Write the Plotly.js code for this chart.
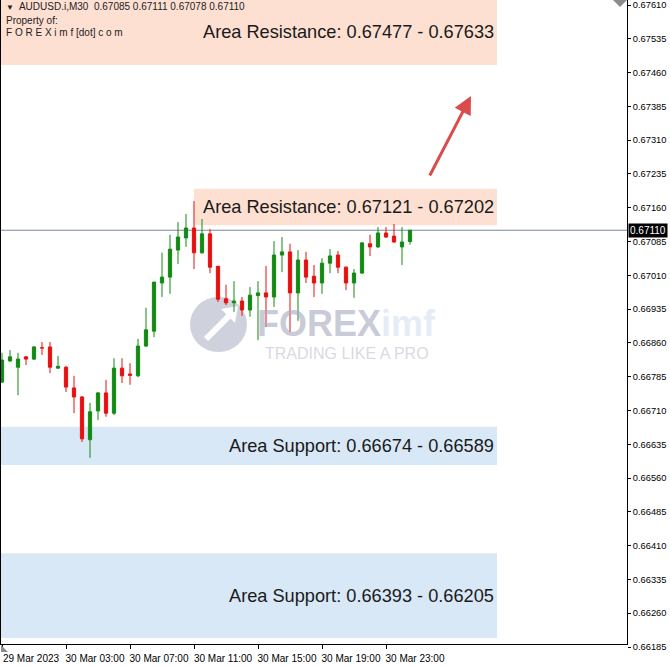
<!DOCTYPE html>
<html>
<head>
<meta charset="utf-8">
<script src="https://cdn.plot.ly/plotly-3.0.1.min.js"></script>
<style>html,body{margin:0;padding:0;background:#fff}#chart{width:670px;height:667px}</style>
</head>
<body>
<div id="chart"></div>
<script>
// ---------------- DATA ----------------
const symbol = "AUDUSD.i,M30";
const firstBar = Date.UTC(2023, 2, 29, 23, 0);   // 29 Mar 2023 23:00, M30 bars
const barMs = 30 * 60 * 1000;

const opens  = [0.66773,0.66820,0.66806,0.66829,0.66824,0.66849,0.66851,0.66804,0.66806,0.66760,
                0.66740,0.66645,0.66709,0.66749,0.66704,0.66804,0.66791,0.66787,0.66853,0.66886,
                0.66993,0.67006,0.67066,0.67093,0.67115,0.67060,0.67102,0.67030,0.66958,0.66949,
                0.66953,0.66933,0.66965,0.66971,0.66962,0.67055,0.67062,0.66971,0.67044,0.67008,
                0.66993,0.67037,0.67055,0.67028,0.66993,0.67015,0.67080,0.67073,0.67104,0.67097,
                0.67073,0.67085];
const highs  = [0.66838,0.66844,0.66838,0.66831,0.66853,0.66862,0.66862,0.66831,0.66809,0.66787,
                0.66742,0.66727,0.66751,0.66778,0.66826,0.66826,0.66815,0.66869,0.66938,0.66995,
                0.67060,0.67100,0.67128,0.67146,0.67175,0.67135,0.67113,0.67031,0.66989,0.66997,
                0.66962,0.66984,0.66997,0.67031,0.67086,0.67095,0.67080,0.67066,0.67062,0.67033,
                0.67048,0.67068,0.67064,0.67030,0.67024,0.67084,0.67100,0.67117,0.67117,0.67124,
                0.67117,0.67111];
const lows   = [0.66771,0.66818,0.66744,0.66811,0.66822,0.66833,0.66793,0.66803,0.66751,0.66704,
                0.66640,0.66605,0.66689,0.66696,0.66700,0.66771,0.66767,0.66784,0.66851,0.66873,
                0.66962,0.66969,0.67035,0.67073,0.67024,0.67058,0.67015,0.66951,0.66944,0.66929,
                0.66920,0.66918,0.66866,0.66895,0.66940,0.67017,0.66884,0.66909,0.66993,0.66962,
                0.66969,0.67015,0.67015,0.66977,0.66960,0.67013,0.67053,0.67071,0.67093,0.67082,
                0.67033,0.67078];
const closes = [0.66822,0.66829,0.66824,0.66824,0.66851,0.66849,0.66806,0.66808,0.66762,0.66740,
                0.66647,0.66707,0.66749,0.66704,0.66804,0.66787,0.66788,0.66853,0.66889,0.66995,
                0.67006,0.67068,0.67095,0.67115,0.67060,0.67102,0.67028,0.66957,0.66949,0.66953,
                0.66933,0.66966,0.66971,0.66962,0.67055,0.67062,0.66971,0.67044,0.67006,0.66993,
                0.67037,0.67053,0.67028,0.66993,0.67015,0.67082,0.67073,0.67104,0.67095,0.67084,
                0.67084,0.67110];

const xTickTimes = ["2023-03-29 23:00","2023-03-30 03:00","2023-03-30 07:00","2023-03-30 11:00",
                    "2023-03-30 15:00","2023-03-30 19:00","2023-03-30 23:00"];
const xTickText  = ["29 Mar 2023","30 Mar 03:00","30 Mar 07:00","30 Mar 11:00",
                    "30 Mar 15:00","30 Mar 19:00","30 Mar 23:00"];
const yTickVals  = [0.66185,0.66260,0.66335,0.66410,0.66485,0.66560,0.66635,0.66710,0.66785,0.66860,
                    0.66935,0.67010,0.67085,0.67160,0.67235,0.67310,0.67385,0.67460,0.67535,0.67610];
const currentPrice = 0.67110;

const zoneLabels = ["Area Resistance: 0.67477 - 0.67633","Area Resistance: 0.67121 - 0.67202",
                    "Area Support: 0.66674 - 0.66589","Area Support: 0.66393 - 0.66205"];
const zoneLow    = [0.67477,0.67121,0.66589,0.66205];
const zoneHigh   = [0.67633,0.67202,0.66674,0.66393];
const zoneKind   = ["resistance","resistance","support","support"];

const headerLines = ["Property of:", "F O R E X i m f [dot] c o m"];
const watermarkMain = ["FOREX", "imf"];
const watermarkSub = "TRADING LIKE A PRO";

// ---------------- LAYOUT GEOMETRY ----------------
const W = 670, H = 667, mL = 1, mR = 43, mT = 0, mB = 19;
const plotW = W - mL - mR, plotH = H - mT - mB;
const pxPerBar = 8, firstBarPx = 1.0;
const pxPerPrice = 45053;
const topPrice = 0.67610 + 5 / pxPerPrice;
const axisGap = 4;

const pad = n => String(n).padStart(2, "0");
const fmt = ms => { const d = new Date(Math.round(ms));
  return d.getUTCFullYear() + "-" + pad(d.getUTCMonth() + 1) + "-" + pad(d.getUTCDate()) + " " +
         pad(d.getUTCHours()) + ":" + pad(d.getUTCMinutes()) + ":" + pad(d.getUTCSeconds()); };
const barTime = i => fmt(firstBar + i * barMs);
const times = opens.map((_, i) => barTime(i));

const xStartIdx = -firstBarPx / pxPerBar;
const xEndIdx = (plotW - firstBarPx) / pxPerBar;
const zoneEndIdx = 61.875;
const zoneStartIdx = [xStartIdx, 24, xStartIdx, xStartIdx];

const xp = X => (X - mL) / plotW;
const yp = Y => 1 - (Y - mT) / plotH;

const GREEN = "#138a13", RED = "#e8100f";
const FONT = "Liberation Sans, Arial, sans-serif";

const traces = [
  {
    type: "candlestick", x: times, open: opens, high: highs, low: lows, close: closes,
    increasing: { line: { color: GREEN, width: 1 }, fillcolor: GREEN },
    decreasing: { line: { color: RED, width: 1 }, fillcolor: RED },
    whiskerwidth: 0, hoverinfo: "skip", showlegend: false, xaxis: "x", yaxis: "y"
  },
  { type: "scatter", x: [], y: [], xaxis: "x", yaxis: "y2", showlegend: false, hoverinfo: "skip" }
];

const shapes = [];
zoneLabels.forEach((_, i) => {
  shapes.push({
    type: "rect", layer: "below", xref: "x", yref: "y",
    x0: barTime(zoneStartIdx[i]), x1: barTime(zoneEndIdx),
    y0: zoneLow[i], y1: zoneHigh[i],
    fillcolor: zoneKind[i] === "resistance" ? "#fde0d2" : "#d9e8f7", line: { width: 0 }
  });
});
shapes.push({ type: "line", layer: "below", xref: "paper", yref: "y", x0: 0, x1: 1,
  y0: currentPrice, y1: currentPrice, line: { color: "#7b8a99", width: 1 } });
// watermark logo
shapes.push({ type: "circle", layer: "below", xref: "paper", yref: "paper",
  x0: xp(190), x1: xp(247), y0: yp(352), y1: yp(297),
  fillcolor: "rgba(160,163,185,0.5)", line: { width: 0 } });
shapes.push({ type: "path", layer: "below", xref: "paper", yref: "paper",
  path: `M ${xp(206)} ${yp(339)} L ${xp(229)} ${yp(316)}`, line: { color: "#ffffff", width: 6 } });
shapes.push({ type: "path", layer: "below", xref: "paper", yref: "paper",
  path: `M ${xp(221)} ${yp(309)} L ${xp(238)} ${yp(306)} L ${xp(235)} ${yp(323)} Z`,
  fillcolor: "#ffffff", line: { width: 0 } });
// chart-shift / scroll markers
shapes.push({ type: "path", layer: "above", xref: "paper", yref: "paper",
  path: `M ${xp(613)} ${yp(0)} L ${xp(627)} ${yp(0)} L ${xp(620)} ${yp(7)} Z`,
  fillcolor: "#8c8c8c", line: { width: 0 } });
shapes.push({ type: "path", layer: "above", xref: "paper", yref: "paper",
  path: `M ${xp(1)} ${yp(645)} L ${xp(1)} ${yp(652)} L ${xp(8)} ${yp(652)} Z`,
  fillcolor: "#8c8c8c", line: { width: 0 } });

const annotations = [];
zoneLabels.forEach((t, i) => {
  annotations.push({ text: t, xref: "x", yref: "y", x: barTime(zoneEndIdx),
    y: (zoneLow[i] + Math.min(zoneHigh[i], topPrice)) / 2,
    xanchor: "right", yanchor: "middle", xshift: -1, showarrow: false,
    font: { family: FONT, size: 18.2, color: "#1a1a1a" } });
});
const last = opens.length - 1;
annotations.push({
  text: '<span style="font-size:8px">▼</span>  ' + symbol + "  " +
        [opens[last], highs[last], lows[last], closes[last]].map(v => v.toFixed(5)).join(" "),
  xref: "paper", yref: "paper", x: xp(4), y: yp(6), xanchor: "left", yanchor: "middle",
  showarrow: false, font: { family: FONT, size: 10, color: "#222" } });
annotations.push({ text: headerLines[0], xref: "paper", yref: "paper", x: xp(4), y: yp(20),
  xanchor: "left", yanchor: "middle", showarrow: false, font: { family: FONT, size: 10, color: "#222" } });
annotations.push({ text: headerLines[1], xref: "paper", yref: "paper", x: xp(4), y: yp(32),
  xanchor: "left", yanchor: "middle", showarrow: false, font: { family: FONT, size: 10, color: "#222" } });
// current price tag
annotations.push({ text: currentPrice.toFixed(5), xref: "paper", yref: "y", x: 1, y: currentPrice,
  xanchor: "left", yanchor: "middle", xshift: 1, showarrow: false, bgcolor: "#000000", borderpad: 1,
  font: { family: FONT, size: 10, color: "#ffffff" } });
// red arrow
annotations.push({ text: "", xref: "paper", yref: "paper", x: xp(471), y: yp(96),
  ax: -42, ay: 81, showarrow: true, arrowhead: 2, arrowsize: 1.2, arrowwidth: 3,
  arrowcolor: "#dc4b4b", standoff: 0 });
// watermark text
annotations.push({
  text: "<b>" + watermarkMain[0] + '<span style="color:rgba(200,212,235,0.75)">' + watermarkMain[1] + "</span></b>",
  xref: "paper", yref: "paper", x: xp(346), y: yp(323), xanchor: "center", yanchor: "middle",
  showarrow: false, font: { family: FONT, size: 36, color: "rgba(165,168,190,0.6)" } });
annotations.push({ text: watermarkSub, xref: "paper", yref: "paper", x: xp(346.5), y: yp(353),
  xanchor: "center", yanchor: "middle", showarrow: false,
  font: { family: FONT, size: 16, color: "rgba(180,184,200,0.55)" } });

const layout = {
  width: W, height: H, margin: { l: mL, r: mR, t: mT, b: mB, pad: 0 },
  paper_bgcolor: "#ffffff", plot_bgcolor: "rgba(0,0,0,0)", showlegend: false,
  boxgap: 0.42,
  font: { family: FONT, size: 10, color: "#000" },
  xaxis: {
    type: "date", anchor: "y", range: [barTime(xStartIdx), barTime(xEndIdx)],
    tickmode: "array", tickvals: xTickTimes, ticktext: xTickText,
    ticks: "outside", ticklen: 4, tickcolor: "#000", tickwidth: 1,
    ticklabelshift: 29, ticklabelstandoff: 1, ticklabeloverflow: "allow",
    tickfont: { family: FONT, size: 10, color: "#000" },
    showline: true, linecolor: "#000", linewidth: 1, showgrid: false, zeroline: false,
    rangeslider: { visible: false }, fixedrange: true
  },
  yaxis: {
    domain: [axisGap / plotH, 1], anchor: "x", side: "right",
    range: [topPrice - (plotH - axisGap) / pxPerPrice, topPrice],
    showticklabels: false, ticks: "", showline: true, mirror: true, linecolor: "#000", linewidth: 1,
    showgrid: false, zeroline: false, fixedrange: true
  },
  yaxis2: {
    domain: [0, 1], anchor: "x", side: "right",
    range: [topPrice - plotH / pxPerPrice, topPrice],
    tickmode: "array", tickvals: yTickVals, tickformat: ".5f",
    ticks: "outside", ticklen: 3, tickcolor: "#000", ticklabelstandoff: 0,
    ticklabeloverflow: "allow",
    tickfont: { family: FONT, size: 9.3, color: "#000" },
    showline: false, showgrid: false, zeroline: false, fixedrange: true
  },
  shapes: shapes, annotations: annotations
};

Plotly.newPlot("chart", traces, layout, { displayModeBar: false, staticPlot: true });
</script>
</body>
</html>
